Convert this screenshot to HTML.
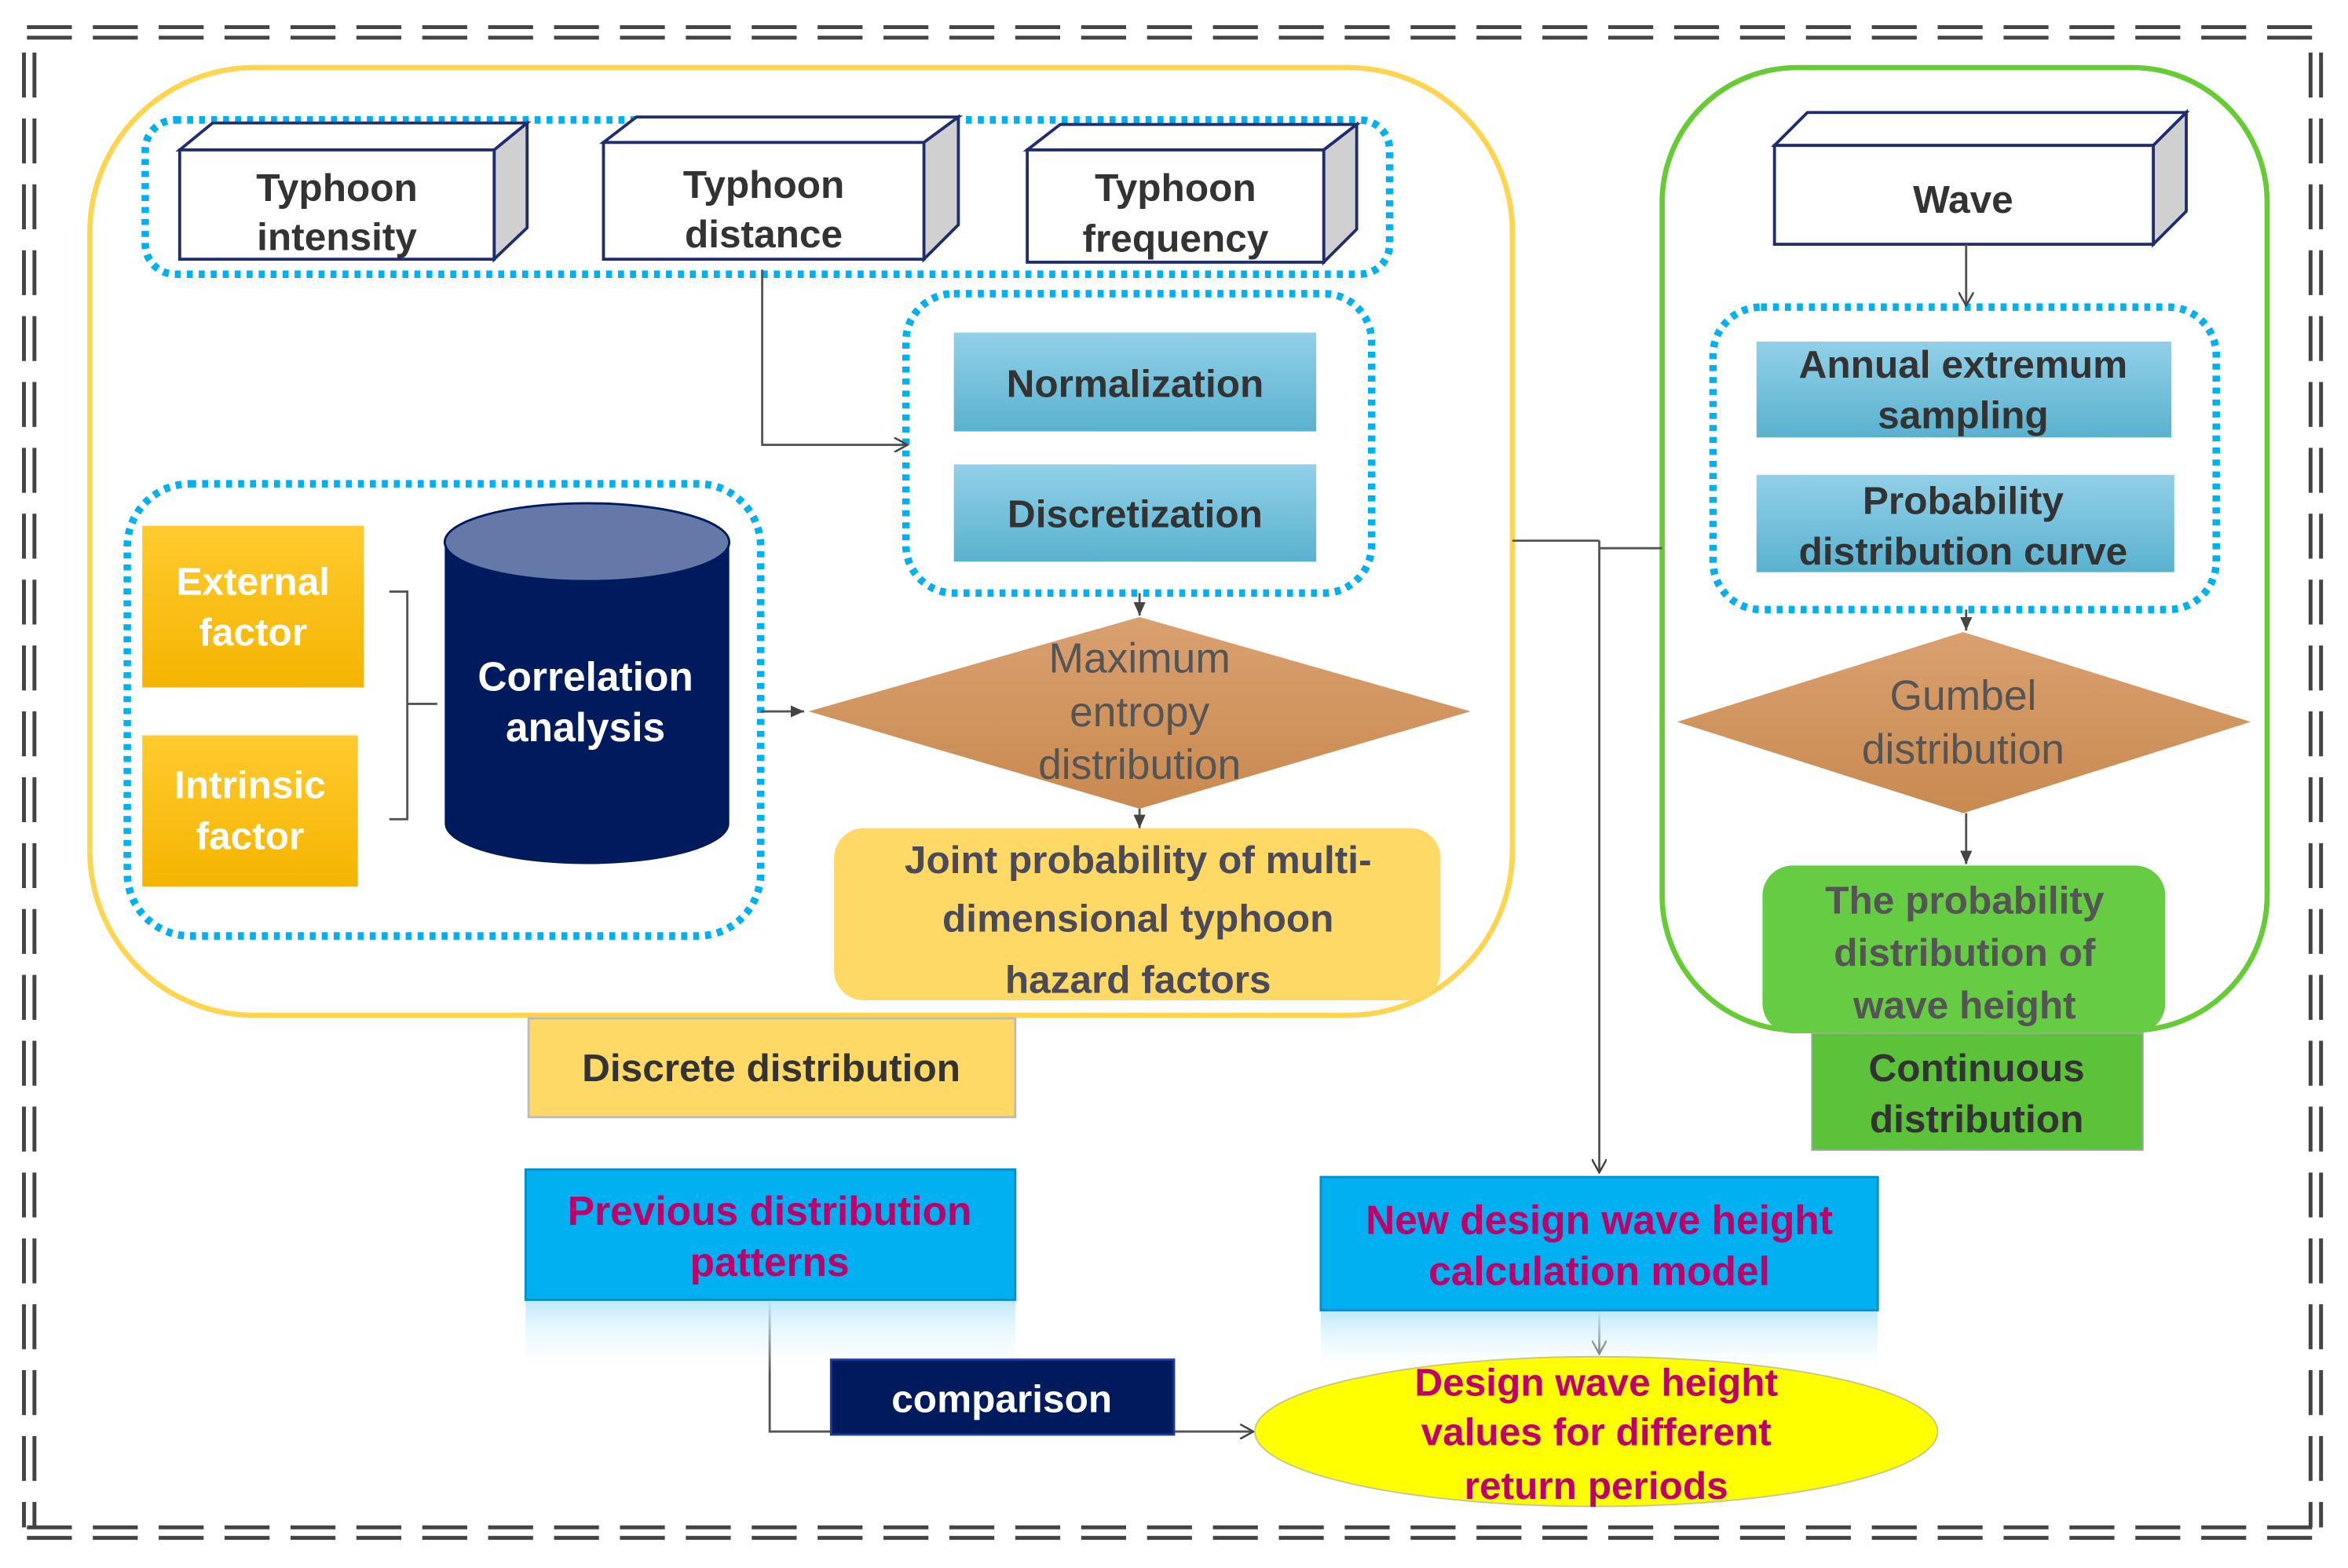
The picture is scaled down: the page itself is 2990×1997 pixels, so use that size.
<!DOCTYPE html>
<html><head><meta charset="utf-8"><style>
html,body{margin:0;padding:0;background:#fff;}
svg{display:block;}
text{font-family:"Liberation Sans",Arial,sans-serif;text-anchor:middle;}
.b{font-weight:bold;}
</style></head><body>
<svg width="2990" height="1997" viewBox="0 0 1568 1047" xmlns="http://www.w3.org/2000/svg">
<defs>
<linearGradient id="lb" x1="0" y1="0" x2="0" y2="1"><stop offset="0" stop-color="#92D0E8"/><stop offset="1" stop-color="#5AB2CF"/></linearGradient>
<linearGradient id="or" x1="0" y1="0" x2="0" y2="1"><stop offset="0" stop-color="#FFCB2F"/><stop offset="1" stop-color="#F5B400"/></linearGradient>
<linearGradient id="dm" x1="0" y1="0" x2="0" y2="1"><stop offset="0" stop-color="#D9A070"/><stop offset="1" stop-color="#C98A4F"/></linearGradient>
<linearGradient id="rf" x1="0" y1="0" x2="0" y2="1"><stop offset="0" stop-color="#BDE9FA"/><stop offset="1" stop-color="#ffffff" stop-opacity="0"/></linearGradient>
<marker id="ar" markerWidth="10" markerHeight="10" refX="9" refY="5" orient="auto" markerUnits="userSpaceOnUse"><path d="M0,0 L9,5 L0,10" fill="none" stroke="#444" stroke-width="1.3"/></marker>
<marker id="af" markerWidth="10" markerHeight="10" refX="9" refY="5" orient="auto" markerUnits="userSpaceOnUse"><path d="M0,1 L9,5 L0,9 Z" fill="#444"/></marker>
</defs>
<!-- outer double dashed border -->
<g stroke="#444" stroke-width="2.6" fill="none" stroke-dasharray="30 14">
<line x1="18" y1="18" x2="1550" y2="18"/><line x1="18" y1="25" x2="1550" y2="25"/>
<line x1="18" y1="1020" x2="1550" y2="1020"/><line x1="18" y1="1027" x2="1550" y2="1027"/>
<line x1="16" y1="35" x2="16" y2="1020"/><line x1="23" y1="35" x2="23" y2="1020"/>
<line x1="1543" y1="35" x2="1543" y2="1020"/><line x1="1550" y1="35" x2="1550" y2="1020"/>
</g>
<!-- yellow container -->
<rect x="60" y="45" width="950" height="633" rx="110" fill="none" stroke="#FFD54F" stroke-width="3.5"/>
<!-- green container -->
<rect x="1110" y="45" width="404" height="643" rx="90" fill="none" stroke="#66CC33" stroke-width="3.5"/>
<!-- dotted groups -->
<g fill="none" stroke="#00B0F0" stroke-width="5" stroke-dasharray="4 4">
<rect x="97" y="80" width="831" height="103" rx="20"/>
<rect x="605" y="196" width="311" height="200" rx="32"/>
<rect x="85" y="323" width="423" height="302" rx="42"/>
<rect x="1144" y="205" width="336" height="202" rx="32"/>
</g>
<!-- 3D boxes -->
<g stroke="#1F2D6E" stroke-width="2">
<polygon points="120,100 142,82 352,82 330,100" fill="#fff"/>
<polygon points="330,100 352,82 352,152 330,173" fill="#D0D0D0"/>
<rect x="120" y="100" width="210" height="73" fill="#fff"/>
<polygon points="403,95 425,78 640,78 617,95" fill="#fff"/>
<polygon points="617,95 640,78 640,150 617,173" fill="#D0D0D0"/>
<rect x="403" y="95" width="214" height="78" fill="#fff"/>
<polygon points="686,100 708,83 906,83 884,100" fill="#fff"/>
<polygon points="884,100 906,83 906,153 884,175" fill="#D0D0D0"/>
<rect x="686" y="100" width="198" height="75" fill="#fff"/>
<polygon points="1185,97 1207,75 1460,75 1438,97" fill="#fff"/>
<polygon points="1438,97 1460,75 1460,141 1438,163" fill="#D0D0D0"/>
<rect x="1185" y="97" width="253" height="66" fill="#fff"/>
</g>
<g class="b" font-size="26" fill="#333">
<text x="225" y="134">Typhoon</text><text x="225" y="167">intensity</text>
<text x="510" y="132">Typhoon</text><text x="510" y="165">distance</text>
<text x="785" y="134">Typhoon</text><text x="785" y="168">frequency</text>
<text x="1311" y="142">Wave</text>
</g>
<!-- connectors -->
<g stroke="#555" stroke-width="1.5" fill="none">
<polyline points="509,180 509,297 606,297" marker-end="url(#ar)"/>
<line x1="761" y1="396" x2="761" y2="411" marker-end="url(#af)"/>
<line x1="761" y1="540" x2="761" y2="553" marker-end="url(#af)"/>
<line x1="508" y1="475" x2="537" y2="475" marker-end="url(#af)"/>
<line x1="1313" y1="163" x2="1313" y2="204" marker-end="url(#ar)"/>
<line x1="1313" y1="407" x2="1313" y2="421" marker-end="url(#af)"/>
<line x1="1313" y1="543" x2="1313" y2="577" marker-end="url(#af)"/>
<polyline points="1010,361 1068,361"/>
<polyline points="1110,366 1068,366"/>
<line x1="1068" y1="361" x2="1068" y2="783" marker-end="url(#ar)"/>
<line x1="1068" y1="875" x2="1068" y2="904" marker-end="url(#ar)"/>
<polyline points="514,868 514,956 837,956" marker-end="url(#ar)"/>
<path d="M260,395 h12 v75 h20 M272,470 v77 h-12"/>
</g>
<!-- blue process boxes -->
<rect x="637" y="222" width="242" height="66" fill="url(#lb)"/>
<rect x="637" y="310" width="242" height="65" fill="url(#lb)"/>
<rect x="1173" y="228" width="277" height="64" fill="url(#lb)"/>
<rect x="1173" y="317" width="279" height="65" fill="url(#lb)"/>
<g class="b" font-size="26" fill="#333">
<text x="758" y="265">Normalization</text>
<text x="758" y="352">Discretization</text>
<text x="1311" y="252">Annual extremum</text><text x="1311" y="286">sampling</text>
<text x="1311" y="343">Probability</text><text x="1311" y="377">distribution curve</text>
</g>
<!-- orange factors -->
<rect x="95" y="351" width="148" height="108" fill="url(#or)"/>
<rect x="95" y="491" width="144" height="101" fill="url(#or)"/>
<g class="b" font-size="26" fill="#fff">
<text x="169" y="397">External</text><text x="169" y="431">factor</text>
<text x="167" y="533">Intrinsic</text><text x="167" y="567">factor</text>
</g>
<!-- cylinder -->
<path d="M297,362 L297,550 A95,27 0 0 0 487,550 L487,362 Z" fill="#001A5E"/>
<ellipse cx="392" cy="362" rx="95" ry="26" fill="#6479A8" stroke="#001A5E" stroke-width="1.5"/>
<g class="b" font-size="27" fill="#fff"><text x="391" y="461">Correlation</text><text x="391" y="495">analysis</text></g>
<!-- diamonds -->
<polygon points="540,475 761,412 982,475 761,540" fill="url(#dm)"/>
<g font-size="28" fill="#555"><text x="761" y="449">Maximum</text><text x="761" y="485">entropy</text><text x="761" y="520">distribution</text></g>
<polygon points="1120,482 1311,422 1503,482 1311,543" fill="url(#dm)"/>
<g font-size="28" fill="#555"><text x="1311" y="474">Gumbel</text><text x="1311" y="510">distribution</text></g>
<!-- joint prob -->
<rect x="557" y="553" width="405" height="115" rx="20" fill="#FFD966"/>
<g class="b" font-size="26" fill="#4a4a5a"><text x="760" y="583">Joint probability of multi-</text><text x="760" y="622">dimensional typhoon</text><text x="760" y="663">hazard factors</text></g>
<rect x="353" y="680" width="325" height="66" fill="#FFD966" stroke="#bbb" stroke-width="1.5"/>
<text class="b" x="515" y="722" font-size="26" fill="#333">Discrete distribution</text>
<!-- green -->
<rect x="1177" y="578" width="269" height="112" rx="20" fill="#66CC44"/>
<g class="b" font-size="26" fill="#555"><text x="1312" y="610">The probability</text><text x="1312" y="645">distribution of</text><text x="1312" y="680">wave height</text></g>
<rect x="1210" y="690" width="221" height="78" fill="#5CC23A" stroke="#9a9" stroke-width="1"/>
<g class="b" font-size="26" fill="#333"><text x="1320" y="722">Continuous</text><text x="1320" y="756">distribution</text></g>
<!-- blue bottom boxes -->
<rect x="351" y="868" width="327" height="50" fill="url(#rf)"/>
<rect x="882" y="875" width="372" height="45" fill="url(#rf)"/>
<rect x="351" y="781" width="327" height="87" fill="#00B0F0" stroke="#0090C8" stroke-width="1.5"/>
<rect x="882" y="786" width="372" height="89" fill="#00B0F0" stroke="#0090C8" stroke-width="1.5"/>
<g class="b" font-size="27" fill="#C0006A"><text x="514" y="818">Previous distribution</text><text x="514" y="852">patterns</text>
<text x="1068" y="824">New design wave height</text><text x="1068" y="858">calculation model</text></g>
<rect x="555" y="908" width="229" height="50" fill="#001A5E" stroke="#1B3C9A" stroke-width="1.5"/>
<text class="b" x="669" y="943" font-size="26" fill="#fff">comparison</text>
<ellipse cx="1066" cy="956" rx="228" ry="50" fill="#FFFF00" stroke="#C8C880" stroke-width="1"/>
<g class="b" font-size="26" fill="#C0006A"><text x="1066" y="932">Design wave height</text><text x="1066" y="965">values for different</text><text x="1066" y="1001">return periods</text></g>
</svg>
</body></html>
